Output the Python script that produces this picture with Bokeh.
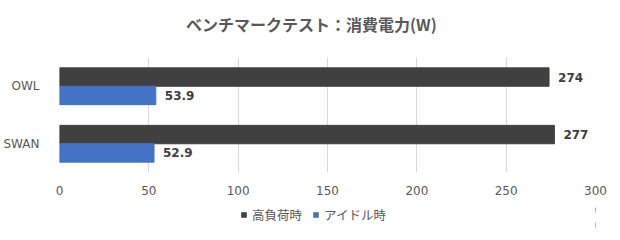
from bokeh.plotting import figure
from bokeh.layouts import column
from bokeh.models import (ColumnDataSource, FactorRange, Range1d, LabelSet, Label,
                          Legend, LegendItem, FixedTicker)
from bokeh.core.properties import value
from bokeh.transform import dodge
from bokeh.embed import file_html
from bokeh.resources import INLINE

categories = ["OWL", "SWAN"]
high_load = [274, 277]
idle = [53.9, 52.9]
series_names = ["高負荷時", "アイドル時"]
title_text = "ベンチマークテスト：消費電力(W)"
x_ticks = [0, 50, 100, 150, 200, 250, 300]

dark = "#404040"
blue = "#4472C4"
grey_txt = "#595959"
lab_font = "DejaVu Sans"
jp_font = "Noto Sans CJK JP"

src = ColumnDataSource(dict(
    cat=categories,
    high=high_load,
    idle=idle,
    high_txt=[f"{v:g}" for v in high_load],
    idle_txt=[f"{v:g}" for v in idle],
))


def blank(h, x_range, y_range):
    f = figure(width=620, height=h, output_backend="svg", toolbar_location=None,
               x_range=x_range, y_range=y_range,
               x_axis_type=None, y_axis_type=None,
               min_border=0, min_border_left=0, min_border_right=0,
               min_border_top=0, min_border_bottom=0)
    f.outline_line_color = None
    f.grid.visible = False
    return f


# title strip
top = blank(46, Range1d(0, 1), Range1d(0, 1))
top.add_layout(Label(x=0.470, y=0.5, text=title_text, text_align="center",
                     text_baseline="middle", text_font=jp_font, text_font_size="16px",
                     text_font_style="bold", text_color=grey_txt))

# main chart
p = figure(width=620, height=156, output_backend="svg", toolbar_location=None,
           y_range=FactorRange(factors=list(reversed(categories))),
           x_range=Range1d(0, 300),
           min_border_left=59, min_border_right=25, min_border_top=11, min_border_bottom=30)
p.outline_line_color = None
p.background_fill_color = "white"
p.border_fill_color = "white"

bh = 0.32
p.hbar(y=dodge("cat", 0.16, range=p.y_range), right="high", left=0, height=bh,
       color=dark, source=src)
p.hbar(y=dodge("cat", -0.16, range=p.y_range), right="idle", left=0, height=bh,
       color=blue, source=src)

for col, txt, d in (("high", "high_txt", 0.16), ("idle", "idle_txt", -0.16)):
    p.add_layout(LabelSet(x=col, y=dodge("cat", d, range=p.y_range), text=txt, source=src,
                          x_offset=9, text_baseline="middle", text_font=value(lab_font),
                          text_font_style="bold", text_font_size="12px", text_color=dark))

p.xaxis.ticker = FixedTicker(ticks=x_ticks)
p.xaxis.axis_line_color = None
p.xaxis.major_tick_line_color = None
p.xaxis.minor_tick_line_color = None
p.xaxis.major_label_text_font = lab_font
p.xaxis.major_label_text_font_size = "12px"
p.xaxis.major_label_text_color = grey_txt
p.xaxis.major_label_standoff = 7

p.yaxis.axis_line_color = None
p.yaxis.major_tick_line_color = None
p.yaxis.minor_tick_line_color = None
p.yaxis.major_label_text_font = lab_font
p.yaxis.major_label_text_font_size = "12px"
p.yaxis.major_label_text_color = grey_txt
p.yaxis.major_label_standoff = 14

p.xgrid.grid_line_color = "#d9d9d9"
p.ygrid.grid_line_color = None

# legend strip: same bars, but the x-range lies left of zero so they fall off the canvas
lg = blank(30, Range1d(-2, -1), FactorRange(factors=list(reversed(categories))))
g1 = lg.hbar(y="cat", right="high", left=0, height=bh, fill_color=dark, line_color=None,
             source=src)
g2 = lg.hbar(y="cat", right="idle", left=0, height=bh, fill_color=blue, line_color=None,
             source=src)
legend = Legend(items=[LegendItem(label=series_names[0], renderers=[g1]),
                       LegendItem(label=series_names[1], renderers=[g2])],
                orientation="horizontal", location=(181, 8),
                label_text_font=jp_font, label_text_font_size="12.5px",
                label_text_color=grey_txt, glyph_width=7, glyph_height=7,
                label_standoff=5, spacing=10, border_line_color=None,
                padding=0, margin=0, background_fill_alpha=0)
lg.add_layout(legend, "center")

layout = column(top, p, lg, spacing=0)
open("out.html", "w").write(file_html(layout, INLINE))
